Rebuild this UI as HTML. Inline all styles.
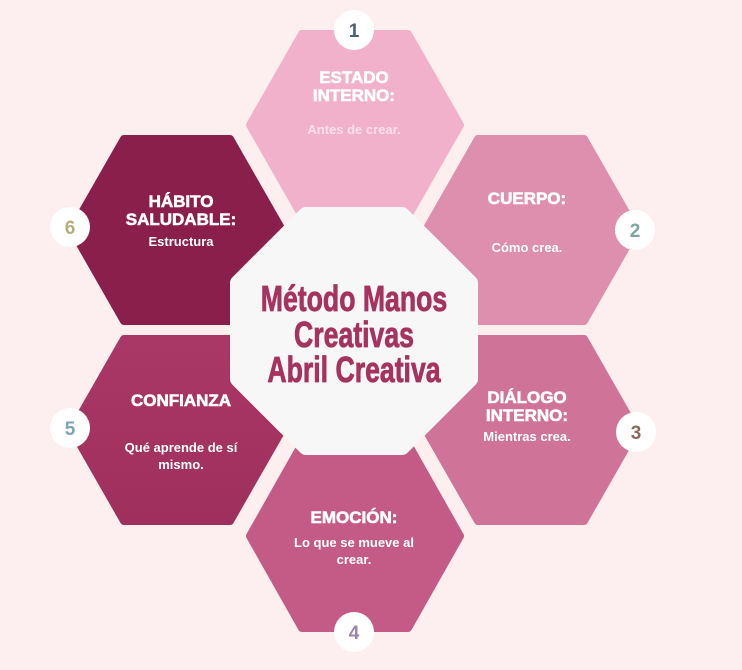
<!DOCTYPE html>
<html><head><meta charset="utf-8"><style>
html,body{margin:0;padding:0;background:#fdefef;}
svg{display:block}
.t{font-family:"Liberation Sans",Arial,sans-serif;font-weight:bold;fill:#fff;text-anchor:middle}
.h{font-size:17px;stroke:#fff;stroke-width:0.6}
.s{font-size:13px}
.n{font-family:"Liberation Sans",Arial,sans-serif;font-weight:bold;font-size:19px;text-anchor:middle}
.title{font-family:"Liberation Sans",sans-serif;font-weight:bold;font-size:36px;fill:#a6335f;text-anchor:middle;stroke:#a6335f;stroke-width:0.8}
</style></head><body>
<svg width="742" height="670" viewBox="0 0 742 670" xmlns="http://www.w3.org/2000/svg">
<defs>
<linearGradient id="g5" x1="0" y1="0" x2="0" y2="1"><stop offset="0" stop-color="#aa3866"/><stop offset="1" stop-color="#9f2f5c"/></linearGradient>
</defs>
<rect width="742" height="670" fill="#fdefef"/>
<g stroke-linejoin="round" stroke-width="8">
<polygon points="302,34 408,34 460,125 408,216 302,216 250,125" fill="#f2b1cb" stroke="#f2b1cb"/>
<polygon points="478,139 584,139 636,230 584,321 478,321 426,230" fill="#de8fae" stroke="#de8fae"/>
<polygon points="478,339 584,339 636,430 584,521 478,521 426,430" fill="#cf7398" stroke="#cf7398"/>
<polygon points="302,444 408,444 460,536 408,628 302,628 250,536" fill="#c45b86" stroke="#c45b86"/>
<polygon points="124,339 230,339 282,430 230,521 124,521 72,430" fill="url(#g5)" stroke="url(#g5)"/>
<polygon points="124,139 230,139 282,230 230,321 124,321 72,230" fill="#8b1f4c" stroke="#8b1f4c"/>
</g>
<polygon points="306,215 402,215 470,283 470,379 402,447 306,447 238,379 238,283" fill="#f7f7f7" stroke="#f7f7f7" stroke-width="16" stroke-linejoin="round"/>
<g transform="translate(354,0) scale(0.74,1)">
<text class="title" x="0" y="311">Método Manos</text>
<text class="title" x="0" y="347">Creativas</text>
<text class="title" x="0" y="382">Abril Creativa</text>
</g>

<text class="t h" x="354" y="83">ESTADO</text>
<text class="t h" x="354" y="101">INTERNO:</text>
<text class="t s" x="354" y="134" style="fill:#fbe0ea">Antes de crear.</text>

<text class="t h" x="527" y="204">CUERPO:</text>
<text class="t s" x="527" y="252">Cómo crea.</text>

<text class="t h" x="527" y="403">DIÁLOGO</text>
<text class="t h" x="527" y="421">INTERNO:</text>
<text class="t s" x="527" y="441">Mientras crea.</text>

<text class="t h" x="354" y="523">EMOCIÓN:</text>
<text class="t s" x="354" y="547">Lo que se mueve al</text>
<text class="t s" x="354" y="564">crear.</text>

<text class="t h" x="181" y="406">CONFIANZA</text>
<text class="t s" x="181" y="452">Qué aprende de sí</text>
<text class="t s" x="181" y="469">mismo.</text>

<text class="t h" x="181" y="207">HÁBITO</text>
<text class="t h" x="181" y="225">SALUDABLE:</text>
<text class="t s" x="181" y="246">Estructura</text>

<g fill="#fff">
<circle cx="354" cy="30" r="20"/>
<circle cx="635" cy="230" r="20"/>
<circle cx="636" cy="432" r="20"/>
<circle cx="354" cy="632" r="20"/>
<circle cx="70" cy="428" r="20"/>
<circle cx="70" cy="227" r="20"/>
</g>
<text class="n" x="354" y="37" fill="#4a6178">1</text>
<text class="n" x="635" y="237" fill="#7fa5a0">2</text>
<text class="n" x="636" y="439" fill="#8b6a5a">3</text>
<text class="n" x="354" y="639" fill="#9a86a8">4</text>
<text class="n" x="70" y="435" fill="#7fa5b0">5</text>
<text class="n" x="70" y="234" fill="#b5ad80">6</text>
</svg>
</body></html>
